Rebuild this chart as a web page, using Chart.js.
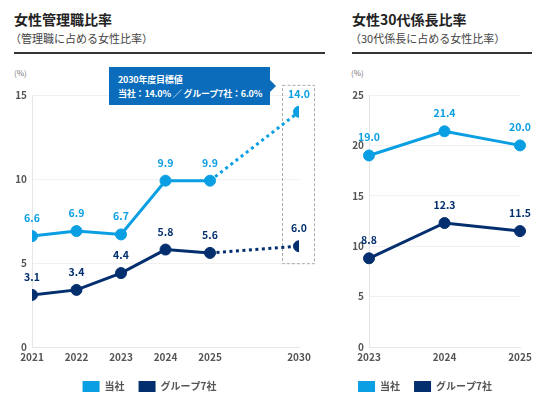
<!DOCTYPE html>
<html>
<head>
<meta charset="utf-8">
<script src="https://cdn.jsdelivr.net/npm/chart.js@4"></script>
<style>
  body { margin: 0; background: #fff; font-family: "Noto Sans CJK JP", sans-serif; }
  #wrap { position: relative; width: 547px; height: 405px; overflow: hidden; }
  .title { position: absolute; top: 9px; font-size: 14px; font-weight: bold; color: #222; white-space: nowrap; }
  .sub { position: absolute; top: 30px; font-size: 11px; color: #444; white-space: nowrap; }
  .rule { position: absolute; top: 52px; height: 2px; background: #333; }
  .unit { position: absolute; top: 67px; font-size: 8px; color: #777; }
  .box { position: absolute; }
  #goal { position: absolute; left: 109px; top: 67px; width: 161px; height: 38px; background: #0a6cba;
          color: #fff; font-size: 9px; font-weight: bold; line-height: 14px; padding: 6px 0 0 9px;
          box-sizing: border-box; white-space: nowrap; letter-spacing: -0.2px; }
  #goal:after { content: ""; position: absolute; right: -6px; top: 13px; border-left: 6px solid #0a6cba;
          border-top: 6px solid transparent; border-bottom: 6px solid transparent; }
</style>
</head>
<body>
<div id="wrap">
  <div class="title" style="left:14px">女性管理職比率</div>
  <div class="sub" style="left:10px">（管理職に占める女性比率）</div>
  <div class="rule" style="left:14px;width:311px"></div>
  <div class="unit" style="left:14px">(%)</div>

  <div class="title" style="left:352px">女性30代係長比率</div>
  <div class="sub" style="left:350px">（30代係長に占める女性比率）</div>
  <div class="rule" style="left:352px;width:180px"></div>
  <div class="unit" style="left:351px">(%)</div>

  <div class="box" style="left:0;top:60px;width:330px;height:345px"><canvas id="left"></canvas></div>
  <div class="box" style="left:330px;top:60px;width:217px;height:345px"><canvas id="right"></canvas></div>

  <div id="goal">2030年度目標値<br>当社：14.0% ／ グループ7社：6.0%</div>
</div>
<script>
// left chart: managers
const mgrYears = ['2021', '2022', '2023', '2024', '2025', '2030'];
const mgrSlots = [0, 1, 2, 3, 4, 6]; // 2030 sits two slots after 2025
const mgrCompany = [6.6, 6.9, 6.7, 9.9, 9.9, 14.0];
const mgrGroup = [3.1, 3.4, 4.4, 5.8, 5.6, 6.0];
const mgrTicks = [0, 5, 10, 15];

// right chart: chiefs in their 30s
const chiefYears = ['2023', '2024', '2025'];
const chiefCompany = [19.0, 21.4, 20.0];
const chiefGroup = [8.8, 12.3, 11.5];
const chiefTicks = [0, 5, 10, 15, 20, 25];

const LIGHT = '#0a9fe3';
const DARK = '#032f6e';
const FONT = '"Noto Sans CJK JP", sans-serif';

const valueLabels = {
  id: 'valueLabels',
  afterDatasetsDraw(chart) {
    const ctx = chart.ctx;
    ctx.save();
    ctx.font = 'bold 10.5px ' + FONT;
    ctx.textAlign = 'center';
    ctx.textBaseline = 'middle';
    chart.data.datasets.forEach((ds, i) => {
      ctx.fillStyle = ds.borderColor;
      chart.getDatasetMeta(i).data.forEach((pt, j) => {
        const v = ds.data[j];
        ctx.fillText((typeof v === 'object' ? v.y : v).toFixed(1), pt.x, pt.y - 18);
      });
    });
    ctx.restore();
  }
};

const targetBox = {
  id: 'targetBox',
  beforeDatasetsDraw(chart) {
    const a = chart.getDatasetMeta(0).data[5];
    const b = chart.getDatasetMeta(1).data[5];
    const ctx = chart.ctx;
    ctx.save();
    ctx.strokeStyle = '#aaa';
    ctx.lineWidth = 1;
    ctx.setLineDash([3, 2]);
    ctx.strokeRect(a.x - 16.5, a.y - 26.5, 32, b.y - a.y + 44);
    ctx.restore();
  }
};

function makeDataset(label, values, color, xs) {
  return {
    label: label,
    data: xs ? values.map((v, i) => ({ x: xs[i], y: v })) : values,
    borderColor: color,
    backgroundColor: color,
    pointStyle: 'circle',
    pointBackgroundColor: color,
    pointBorderColor: color,
    pointBorderWidth: 1,
    pointRadius: 5.5,
    borderWidth: 3,
    segment: { borderDash: c => (xs && c.p1DataIndex === 5) ? [3, 3.5] : [] }
  };
}

function baseOptions(yMax, yTicks, yWidth, padRight) {
  return {
    responsive: true,
    maintainAspectRatio: false,
    animation: false,
    layout: { padding: { top: 35, right: padRight, bottom: 3, left: 0 } },
    plugins: {
      tooltip: { enabled: false },
      legend: {
        position: 'bottom',
        labels: {
          boxWidth: 17, boxHeight: 11, padding: 14, color: '#555',
          font: { family: FONT, size: 10, weight: 'bold' },
          generateLabels(chart) {
            return chart.data.datasets.map((ds, i) => ({
              text: ds.label, fillStyle: ds.borderColor, strokeStyle: ds.borderColor,
              lineWidth: 0, datasetIndex: i, fontColor: '#555'
            }));
          }
        }
      }
    },
    scales: {
      y: {
        min: 0, max: yMax,
        afterBuildTicks: ax => { ax.ticks = yTicks.map(v => ({ value: v })); },
        afterFit: ax => { ax.width = yWidth; },
        grid: { color: '#f0f0f0', drawTicks: false },
        border: { color: '#e6e6e6' },
        ticks: { padding: 5, color: '#555', font: { family: FONT, size: 10, weight: 'bold' } }
      }
    }
  };
}

const xTicks = { padding: 4, color: '#555', font: { family: FONT, size: 10, weight: 'bold' } };

const leftOpts = baseOptions(15, mgrTicks, 32, 31);
leftOpts.scales.x = {
  type: 'linear', min: 0, max: 6,
  afterBuildTicks: ax => { ax.ticks = mgrSlots.map(v => ({ value: v })); },
  afterFit: ax => { ax.height = 20; },
  grid: { display: false, drawTicks: false, tickLength: 0 },
  border: { color: '#e6e6e6' },
  ticks: Object.assign({}, xTicks, { callback: v => mgrYears[mgrSlots.indexOf(v)] })
};

new Chart(document.getElementById('left'), {
  type: 'line',
  data: {
    datasets: [
      makeDataset('当社', mgrCompany, LIGHT, mgrSlots),
      makeDataset('グループ7社', mgrGroup, DARK, mgrSlots)
    ]
  },
  options: leftOpts,
  plugins: [valueLabels, targetBox]
});

const rightOpts = baseOptions(25, chiefTicks, 39, 27);
rightOpts.scales.x = {
  type: 'category',
  offset: false,
  afterFit: ax => { ax.height = 20; },
  grid: { display: false, drawTicks: false, tickLength: 0 },
  border: { color: '#e6e6e6' },
  ticks: xTicks
};

new Chart(document.getElementById('right'), {
  type: 'line',
  data: {
    labels: chiefYears,
    datasets: [
      makeDataset('当社', chiefCompany, LIGHT),
      makeDataset('グループ7社', chiefGroup, DARK)
    ]
  },
  options: rightOpts,
  plugins: [valueLabels]
});
</script>
</body>
</html>
